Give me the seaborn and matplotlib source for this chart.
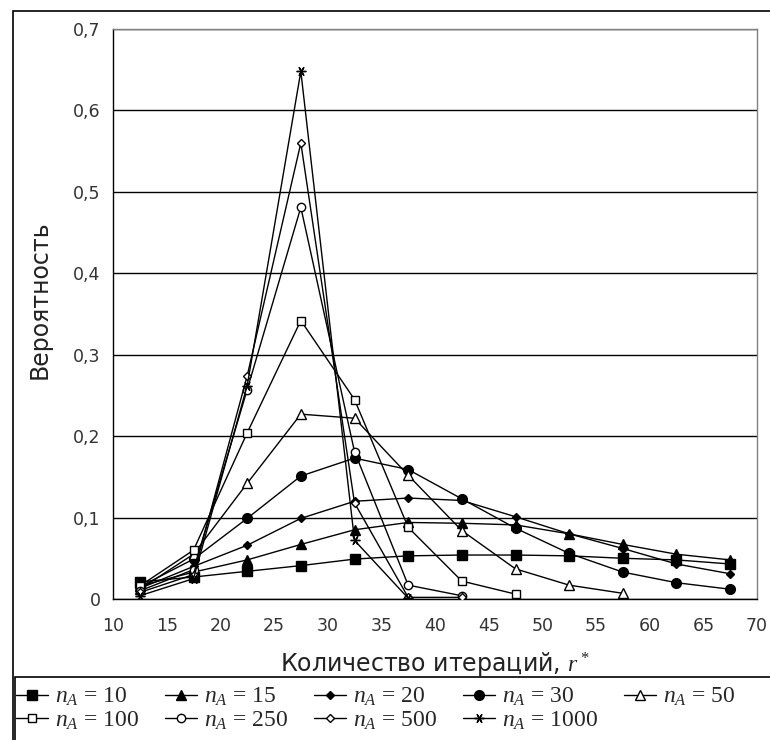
import matplotlib
matplotlib.use("Agg")
import matplotlib.pyplot as plt
import matplotlib.ticker as mticker
from matplotlib.patches import Rectangle
import pandas as pd
import seaborn as sns

# iteration bins (centres) and probabilities per n_A
R = [12.5, 17.5, 22.5, 27.5, 32.5, 37.5, 42.5, 47.5, 52.5, 57.5, 62.5, 67.5]

P10 = [0.021, 0.027, 0.034, 0.041, 0.049, 0.053, 0.054, 0.054, 0.053, 0.050, 0.048, 0.043]
P15 = [0.016, 0.033, 0.048, 0.067, 0.085, 0.094, 0.093, 0.091, 0.080, 0.067, 0.055, 0.048]
P20 = [0.013, 0.040, 0.066, 0.099, 0.120, 0.124, 0.121, 0.101, 0.080, 0.062, 0.043, 0.031]
P30 = [0.015, 0.049, 0.099, 0.151, 0.173, 0.159, 0.123, 0.087, 0.056, 0.033, 0.020, 0.012]
P50 = [0.012, 0.055, 0.142, 0.227, 0.222, 0.152, 0.084, 0.037, 0.017, 0.007]
P100 = [0.016, 0.060, 0.204, 0.342, 0.245, 0.088, 0.022, 0.006]
P250 = [0.010, 0.036, 0.257, 0.481, 0.181, 0.017, 0.004]
P500 = [0.008, 0.030, 0.274, 0.560, 0.118, 0.002, 0.002]
P1000 = [0.004, 0.025, 0.262, 0.648, 0.072, 0.001]

SERIES = [
    (10, P10, "s", "black", 6.5),
    (15, P15, "^", "black", 7),
    (20, P20, "D", "black", 4.5),
    (30, P30, "o", "black", 7),
    (50, P50, "^", "white", 6.5),
    (100, P100, "s", "white", 5.5),
    (250, P250, "o", "white", 6),
    (500, P500, "D", "white", 4.5),
    (1000, P1000, (6, 2, 90), "none", 7),
]

sns.set_style("white")
plt.rcParams["font.family"] = ["DejaVu Sans"]
plt.rcParams["mathtext.fontset"] = "custom"
plt.rcParams["mathtext.rm"] = "Liberation Serif"
plt.rcParams["mathtext.it"] = "Liberation Serif:italic"

fig = plt.figure(figsize=(7.7, 7.4), dpi=100)
ax = fig.add_axes([113 / 770, 1 - 599 / 740, 644 / 770, 570 / 740])

for n, vals, mk, face, ms in SERIES:
    df = pd.DataFrame({"r": R[:len(vals)], "p": vals})
    sns.lineplot(data=df, x="r", y="p", ax=ax, color="black", linewidth=1.0,
                 marker=mk, markersize=ms, markerfacecolor=face,
                 markeredgecolor="black", markeredgewidth=1.0,
                 label=f"$n_A$ = {n}", zorder=3)

ax.set_xlim(10, 70)
ax.set_ylim(0, 0.7)
ax.xaxis.set_major_locator(mticker.MultipleLocator(5))
ax.yaxis.set_major_locator(mticker.MultipleLocator(0.1))
ax.yaxis.set_major_formatter(mticker.FuncFormatter(
    lambda v, _: "0" if abs(v) < 1e-9 else f"{v:.1f}".replace(".", ",")))
ax.yaxis.grid(True, color="black", linewidth=1.0)
ax.set_axisbelow(True)
ax.tick_params(axis="both", direction="out", length=5, width=1, colors="black",
               labelsize=12.5, labelcolor="#333333")
ax.tick_params(axis="x", pad=8)
ax.tick_params(axis="y", pad=4)
for side in ["left", "bottom"]:
    ax.spines[side].set_color("black")
    ax.spines[side].set_linewidth(1.0)
for side in ["top", "right"]:
    ax.spines[side].set_color("#808080")
    ax.spines[side].set_linewidth(1.0)

ax.set_xlabel("Количество итераций, $r^*$", fontsize=17, color="#222222")
ax.set_ylabel("Вероятность", fontsize=17, color="#222222")
ax.xaxis.set_label_coords(0.5, -0.089)
ax.yaxis.set_label_coords(-0.095, 0.525)

# legend, row-major order over 5 columns
handles, labels = ax.get_legend_handles_labels()
order = [0, 5, 1, 6, 2, 7, 3, 8, 4]
ax.legend([handles[i] for i in order], [labels[i] for i in order],
          ncol=5, loc="upper left", bbox_to_anchor=(16 / 770, 1 - 686 / 740),
          bbox_transform=fig.transFigure, frameon=False,
          prop={"family": "Liberation Serif", "size": 17},
          handlelength=1.35, handletextpad=0.3, columnspacing=1.1,
          labelspacing=0.05, borderpad=0, borderaxespad=0)

# outer chart frame and legend box, cropped by the picture edges
fig.patches.append(Rectangle((13 / 770, -0.1), 1.2, 1.1 - 11 / 740,
                             transform=fig.transFigure, fill=False,
                             edgecolor="black", linewidth=1.2))
fig.patches.append(Rectangle((15 / 770, -0.1), 1.2, 0.1 + 1 - 677 / 740,
                             transform=fig.transFigure, fill=False,
                             edgecolor="black", linewidth=1.2))

fig.savefig("out.png", dpi=100)
